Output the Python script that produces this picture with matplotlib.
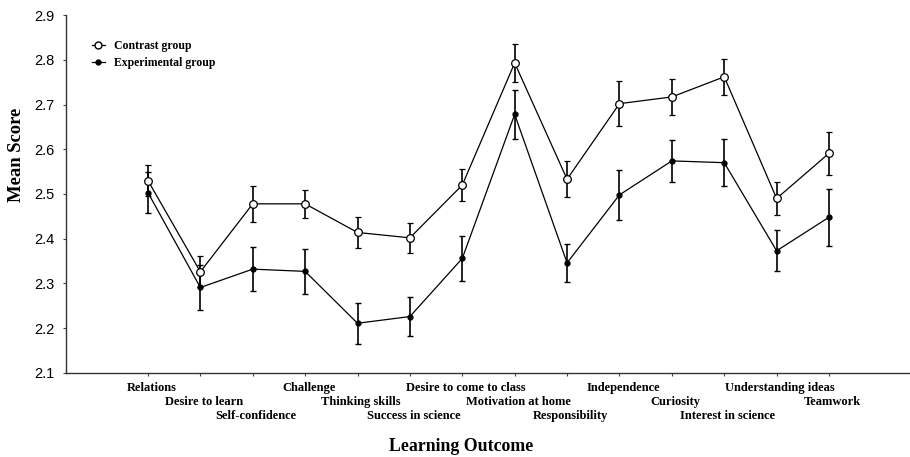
import matplotlib
matplotlib.use("Agg")
import matplotlib.pyplot as plt
from matplotlib.lines import Line2D
import numpy as np

outcomes = ["Relations", "Desire to learn", "Self-confidence", "Challenge",
            "Thinking skills", "Success in science", "Desire to come to class",
            "Motivation at home", "Responsibility", "Independence", "Curiosity",
            "Interest in science", "Understanding ideas", "Teamwork"]

contrast_mean = [2.530, 2.326, 2.478, 2.478, 2.414, 2.402, 2.520,
                 2.793, 2.533, 2.702, 2.717, 2.762, 2.490, 2.591]
contrast_err = [0.035, 0.035, 0.040, 0.032, 0.034, 0.033, 0.036,
                0.042, 0.040, 0.050, 0.040, 0.040, 0.036, 0.048]

experimental_mean = [2.503, 2.291, 2.332, 2.327, 2.211, 2.226, 2.356,
                     2.678, 2.346, 2.498, 2.574, 2.570, 2.373, 2.448]
experimental_err = [0.046, 0.050, 0.049, 0.050, 0.046, 0.044, 0.050,
                    0.055, 0.042, 0.056, 0.047, 0.052, 0.046, 0.064]

serif = ["Liberation Serif", "DejaVu Serif"]
sans = ["Liberation Sans", "DejaVu Sans"]

fig = plt.figure(figsize=(9.1, 4.57), dpi=100)
ax = fig.add_axes([0.0725, 0.184, 0.926, 0.783])

x = np.arange(len(outcomes))

# contrast group: open circles, experimental group: small filled dots
ax.errorbar(x, contrast_mean, yerr=contrast_err, color="black", lw=0.9,
            elinewidth=1.2, capsize=2, capthick=1.0, marker="o", ms=5.5,
            mfc="white", mec="black", mew=0.9, zorder=3)
ax.errorbar(x, experimental_mean, yerr=experimental_err, color="black", lw=0.9,
            elinewidth=1.2, capsize=2, capthick=1.0, marker="o", ms=3.5,
            mfc="black", mec="black", zorder=3)

ax.set_xlim(-1.565, 14.52)
ax.set_ylim(2.1, 2.9)
yt = np.arange(2.1, 2.91, 0.1)
ax.set_yticks(yt)
ax.set_yticklabels([f"{v:.1f}" for v in yt], family=sans, fontsize=10.5)

# category names staggered over three rows
ax.set_xticks(x)
ax.set_xticklabels([])
for i, name in enumerate(outcomes):
    row = i % 3
    ax.annotate(name, xy=(i, 0), xycoords=("data", "axes fraction"),
                xytext=(2.5, -6.5 - row * 10.1), textcoords="offset points",
                ha="center", va="top", family=serif, fontsize=9,
                fontweight="bold")

ax.tick_params(axis="x", length=2, width=0.8, color="#444444")
ax.tick_params(axis="y", length=2, width=0.8, color="#444444", pad=6)

for side in ("top", "right"):
    ax.spines[side].set_visible(False)
for side in ("left", "bottom"):
    ax.spines[side].set_color("#333333")
    ax.spines[side].set_linewidth(1.0)

fig.text(0.018, 1 - 155 / 457, "Mean Score", family=serif, fontsize=13.4,
         fontweight="bold", rotation=90, ha="center", va="center")
fig.text(0.507, 0.024, "Learning Outcome", family=serif, fontsize=12.8,
         fontweight="bold", ha="center", va="center")

handles = [
    Line2D([], [], color="black", lw=0.9, marker="o", ms=5, mfc="white", mec="black"),
    Line2D([], [], color="black", lw=0.9, marker="o", ms=3.5, mfc="black", mec="black"),
]
ax.legend(handles, ["Contrast group", "Experimental group"], loc="upper left",
          bbox_to_anchor=(0.018, 0.96), frameon=False,
          prop={"family": serif, "size": 8.5, "weight": "bold"},
          handlelength=1.1, handletextpad=0.8, labelspacing=0.45)

fig.savefig("out.png", dpi=100)
